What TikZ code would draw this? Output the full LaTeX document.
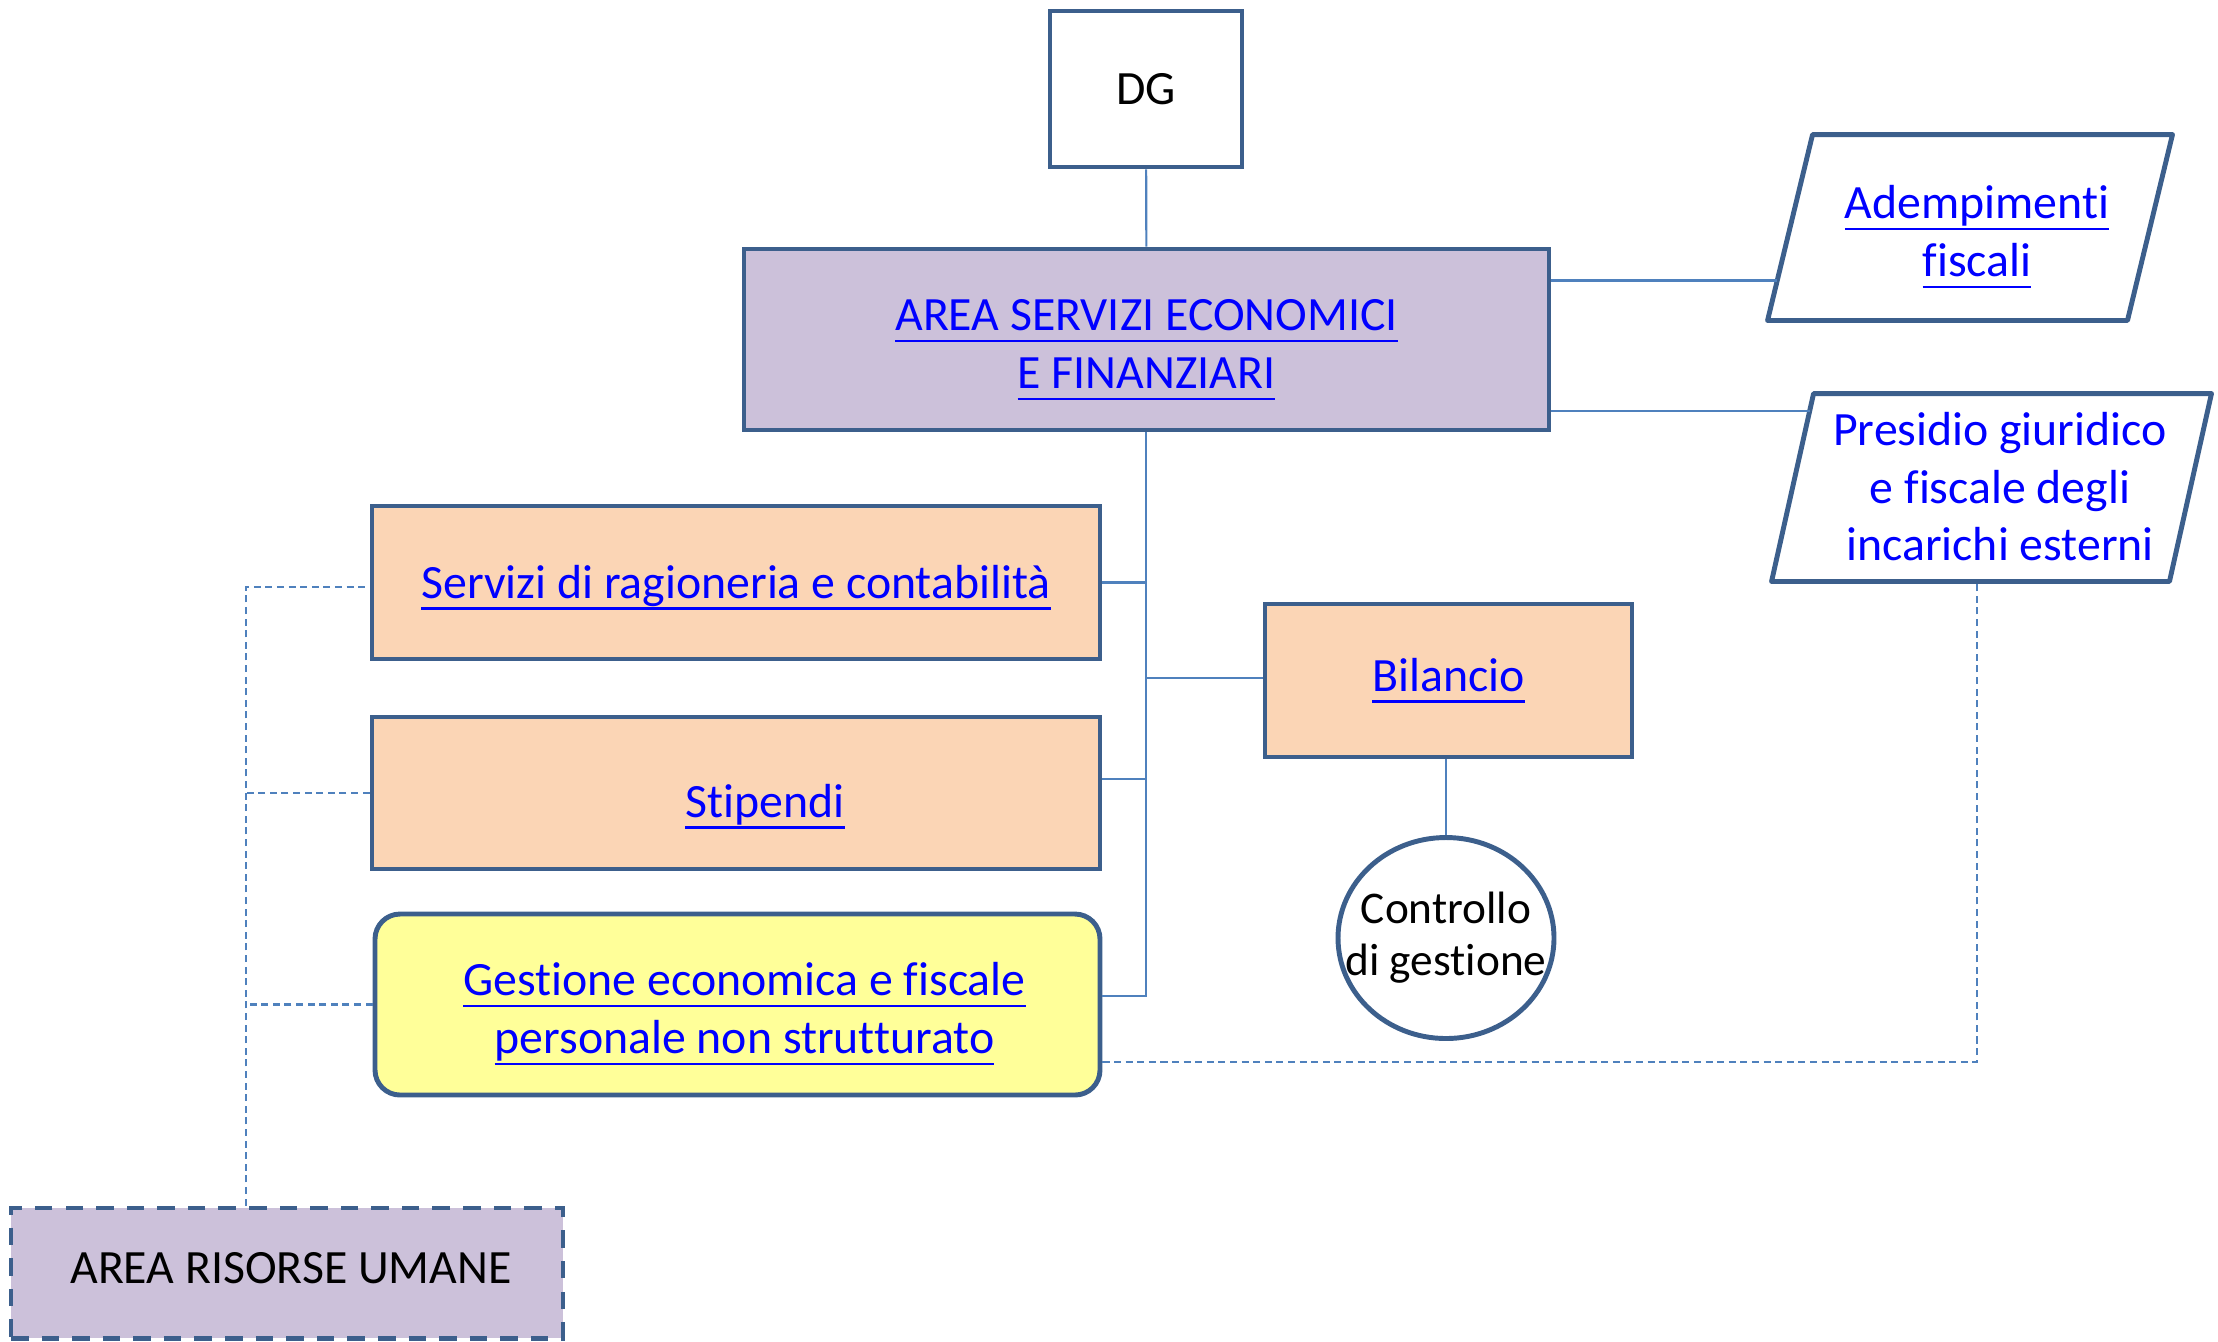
\documentclass[tikz,border=0pt]{standalone}
\usepackage{fontspec}
\setmainfont{Carlito}[Ligatures=NoCommon]
\usetikzlibrary{calc, shapes.geometric}

\definecolor{boxblue}{HTML}{3C5F8C}
\definecolor{wireblue}{HTML}{4F81BD}
\definecolor{areapurple}{HTML}{CCC1DA}
\definecolor{unitpeach}{HTML}{FBD5B5}
\definecolor{notepale}{HTML}{FFFF99}
\definecolor{linkblue}{HTML}{0000FF}

\newsavebox{\lnkbox}
\newsavebox{\txtbox}
\newcommand{\lnk}[1]{\textcolor{linkblue}{\sbox{\lnkbox}{#1}%
    \rlap{\rule[-3.3pt]{\wd\lnkbox}{0.7pt}}\usebox{\lnkbox}}}
% text block moved by (#1,#2) inside its box
\newcommand{\nudge}[3]{\sbox{\txtbox}{\begin{tabular}{@{}c@{}}#3\end{tabular}}%
    \raisebox{#2}[\ht\txtbox][\dp\txtbox]{\makebox[\wd\txtbox][l]{\hspace{#1}\usebox{\txtbox}}}}

\tikzset{
    box/.style={draw=boxblue, line width=1.4pt, inner sep=0pt, align=center,
        font=\fontsize{13.6}{16.4}\selectfont},
    wire/.style={draw=wireblue, line width=0.6pt},
    dotwire/.style={wire, dash pattern=on 2pt off 1.3pt}
}

\begin{document}
\begin{tikzpicture}
    \useasboundingbox (0,0) rectangle (22.18,-13.41);

    \node[box, minimum width=1.92cm, minimum height=1.56cm] (dg) at (11.46,-0.89) {DG};
    \node[box, fill=areapurple, minimum width=8.05cm, minimum height=1.81cm] (asef) at (11.465,-3.395)
        {\nudge{0cm}{-0.085cm}{\lnk{AREA SERVIZI ECONOMICI}\\\lnk{E FINANZIARI}}};

    \node[box, fill=unitpeach, minimum width=7.28cm, minimum height=1.53cm] (serv) at (7.36,-5.825)
        {\nudge{0cm}{-0.04cm}{\lnk{Servizi di ragioneria e contabilità}}};
    \node[box, fill=unitpeach, minimum width=7.28cm, minimum height=1.52cm] (stip) at (7.36,-7.93)
        {\nudge{0.29cm}{-0.127cm}{\lnk{Stipendi}}};
    \node[box, fill=notepale, rounded corners=0.25cm, minimum width=7.25cm, minimum height=1.81cm] (gest) at (7.375,-10.045)
        {\nudge{0.07cm}{-0.085cm}{\lnk{Gestione economica e fiscale}\\\lnk{personale non strutturato}}};

    \node[box, fill=unitpeach, minimum width=3.67cm, minimum height=1.53cm] (bil) at (14.485,-6.805)
        {\lnk{Bilancio}};
    \node[box, fill=white, ellipse, minimum width=2.16cm, minimum height=2.01cm,
        label={[align=center, font=\fontsize{12.9}{14.8}\selectfont]center:Controllo\\di gestione}] (ctrl) at (14.46,-9.38) {};

    \node[box, fill=areapurple, dash pattern=on 5pt off 3.7pt, minimum width=5.52cm, minimum height=1.30cm] (hr) at (2.87,-12.73)
        {\nudge{0.04cm}{0.01cm}{AREA RISORSE UMANE}};

    % parallelograms on the right
    \node[box, draw=none, minimum width=4.00cm, minimum height=1.81cm] (adem) at (19.70,-2.275)
        {\nudge{0.07cm}{-0.085cm}{\lnk{Adempimenti}\\\lnk{fiscali}}};
    \coordinate (ademtl) at ($(adem.north west)+(0.45,0)$);
    \draw[boxblue, line width=1.4pt, line join=round] (ademtl) -- (adem.north east)
        -- ($(adem.south east)-(0.45,0)$) -- (adem.south west) -- cycle;

    \node[box, draw=none, text=linkblue, minimum width=4.35cm, minimum height=1.83cm] (pres) at (19.915,-4.875)
        {\nudge{0.085cm}{-0.04cm}{Presidio giuridico\\e fiscale degli\\incarichi esterni}};
    \coordinate (prestl) at ($(pres.north west)+(0.42,0)$);
    \draw[boxblue, line width=1.4pt, line join=round] (prestl) -- (pres.north east)
        -- ($(pres.south east)-(0.42,0)$) -- (pres.south west) -- cycle;

    % solid connectors
    \coordinate (trunkend) at (11.46,-9.96);
    \coordinate (stipjoin) at (11.46,-7.79);
    \coordinate (biljoin) at (11.46,-6.78);
    \draw[wire] (dg) -- (asef);
    \draw[wire] (asef.south -| trunkend) -- (trunkend) -- (gest.east |- trunkend);
    \draw[wire] (serv.east) -- (serv.east -| trunkend);
    \draw[wire] (stipjoin) -- (stip.east |- stipjoin);
    \draw[wire] (biljoin) -- (bil.west |- biljoin);
    \draw[wire] (ctrl.north) -- (ctrl.north |- bil.south);

    \coordinate (ademin) at ($(adem.south west)!0.215!(ademtl)$);
    \coordinate (presin) at ($(pres.south west)!0.907!(prestl)$);
    \draw[wire] (ademin) -- (asef.east |- ademin);
    \draw[wire] (presin) -- (asef.east |- presin);

    % dashed connectors
    \coordinate (hrtop) at (2.46,-5.87);
    \coordinate (extjoin) at (19.77,-10.62);
    \draw[dotwire] (hr.north -| hrtop) -- (hrtop) -- (serv.west |- hrtop);
    \draw[dotwire] (stip.west) -- (stip.west -| hrtop);
    \draw[dotwire] (gest.west) -- (gest.west -| hrtop);
    \draw[dotwire] (gest.east |- extjoin) -- (extjoin) -- (pres.south -| extjoin);
\end{tikzpicture}
\end{document}
